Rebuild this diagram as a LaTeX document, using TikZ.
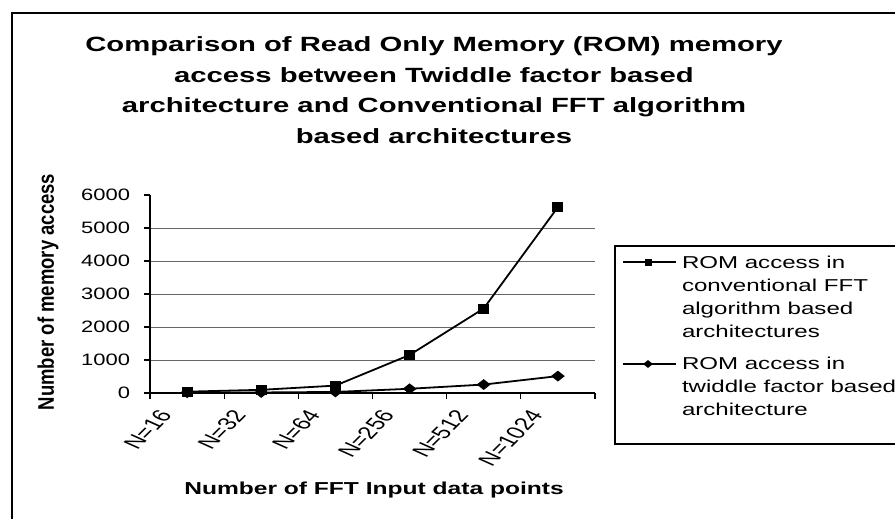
\documentclass[tikz,border=0pt]{standalone}
\usepackage{fontspec}
\setmainfont{Liberation Sans}
\usetikzlibrary{shapes.geometric}
\newcommand{\hs}[1]{\scalebox{1.42}[1]{#1}}
\begin{document}
\begin{tikzpicture}[x=1pt,y=-1pt,
  txt/.style={inner sep=0pt, outer sep=0pt},
  sqmark/.style={draw=none, fill=black, rectangle, minimum width=11pt, minimum height=10pt, inner sep=0pt},
  dmmark/.style={draw=none, fill=black, diamond, minimum width=14pt, minimum height=11pt, inner sep=0pt},
  lsq/.style={draw=none, fill=black, rectangle, minimum width=7pt, minimum height=7pt, inner sep=0pt},
  ldm/.style={draw=none, fill=black, diamond, minimum width=10pt, minimum height=8pt, inner sep=0pt},
  grid/.style={draw=black!60, line width=0.8pt},
  axis/.style={draw=black, line width=1.3pt},
  series/.style={draw=black, line width=1.8pt},
  frame/.style={draw=black, line width=2pt},
  ticklab/.style={txt, font=\fontsize{16.5}{18}\selectfont},
  catlab/.style={txt, font=\fontsize{17.5}{19}\selectfont}
]
\useasboundingbox (0,0) rectangle (895,519);
\clip (0,0) rectangle (895,519);
\fill[white] (0,0) rectangle (895,519);
% outer frame
\coordinate (fTR) at (900,13.5);
\coordinate (fTL) at (11.5,13.5);
\coordinate (fBL) at (11.5,525);
\draw[frame] (fTR) -- (fTL) -- (fBL);

% title
\node[txt, anchor=center] (title) at (434,91.3) {\hs{\fontsize{20.6}{31}\selectfont\bfseries
\begin{tabular}{@{}c@{}}
Comparison of Read Only Memory (ROM) memory\\
access between Twiddle factor based\\
architecture and Conventional FFT algorithm\\
based architectures
\end{tabular}}};

% gridlines
\foreach \v in {1000,2000,3000,4000,5000}{
  \coordinate (gl\v) at (150,{393-\v*0.033});
  \coordinate (gr\v) at (595,{393-\v*0.033});
  \draw[grid] (gl\v) -- (gr\v);
}
% axes
\coordinate (o) at (150,393);
\coordinate (ytop) at (150,195);
\coordinate (xend) at (595,393);
\draw[axis] (ytop) -- (o) -- (xend);
% y ticks and labels
\foreach \v in {0,1000,2000,3000,4000,5000,6000}{
  \coordinate (yt\v) at (150,{393-\v*0.033});
  \coordinate (ytl\v) at (144,{393-\v*0.033});
  \draw[axis] (yt\v) -- (ytl\v);
  \node[ticklab, anchor=east] (yl\v) at (130,{393-\v*0.033}) {\scalebox{1.33}[1]{\v}};
}
% x ticks
\foreach \i/\x in {0/150,1/224.2,2/298.3,3/372.5,4/446.7,5/520.8,6/595}{
  \coordinate (xt\i) at (\x,393);
  \coordinate (xtb\i) at (\x,399);
  \draw[axis] (xt\i) -- (xtb\i);
}
% x labels
\foreach \i/\x/\t in {1/187.1/16,2/261.2/32,3/335.4/64,4/409.6/256,5/483.7/512,6/557.9/1024}{
  \node[catlab, anchor=north east] (xl\i) at (\x-14,409) {\scalebox{1.5}[1]{\rotatebox{56}{N=\t}}};
}

% axis titles
\node[txt] (ytitle) at (48,292) {\scalebox{1.22}[1]{\rotatebox{90}{\fontsize{18.5}{20}\selectfont\bfseries Number of memory access}}};
\node[txt, anchor=base] (xtitle) at (374,494) {\hs{\fontsize{17.3}{19}\selectfont\bfseries Number of FFT Input data points}};

% series: conventional
\foreach \i/\x/\v in {1/187.1/40,2/261.2/96,3/335.4/224,4/409.6/1152,5/483.7/2560,6/557.9/5632}{
  \coordinate (c\i) at (\x,{393-\v*0.033});
}
% series: twiddle
\foreach \i/\x/\v in {1/187.1/8,2/261.2/16,3/335.4/32,4/409.6/128,5/483.7/256,6/557.9/512}{
  \coordinate (t\i) at (\x,{393-\v*0.033});
}
\draw[series] (t1) -- (t2) -- (t3) -- (t4) -- (t5) -- (t6);
\draw[series] (c1) -- (c2) -- (c3) -- (c4) -- (c5) -- (c6);
\foreach \i in {1,...,6}{
  \node[dmmark] (tm\i) at (t\i) {};
}
\foreach \i in {1,...,6}{
  \node[sqmark] (cm\i) at (c\i) {};
}

% legend
\coordinate (lgTL) at (615,246);
\coordinate (lgBR) at (905,444);
\draw[black, line width=1.2pt] (lgTL) rectangle (lgBR);
\coordinate (la1) at (623,262);
\coordinate (lb1) at (676,262);
\draw[black, line width=1.2pt] (la1) -- (lb1);
\node[lsq] (lm1) at (648,262) {};
\coordinate (la2) at (623,364);
\coordinate (lb2) at (676,364);
\draw[black, line width=1.2pt] (la2) -- (lb2);
\node[ldm] (lm2) at (648,364) {};
\node[txt, anchor=north west] (lt1) at (682,251.9) {\scalebox{1.4}[1]{\fontsize{17.2}{23}\selectfont
\begin{tabular}{@{}l@{}}
ROM access in\\
conventional FFT\\
algorithm based\\
architectures
\end{tabular}}};
\node[txt, anchor=north west] (lt2) at (682,352.9) {\scalebox{1.4}[1]{\fontsize{17.2}{23}\selectfont
\begin{tabular}{@{}l@{}}
ROM access in\\
twiddle factor based\\
architecture
\end{tabular}}};
\end{tikzpicture}
\end{document}
